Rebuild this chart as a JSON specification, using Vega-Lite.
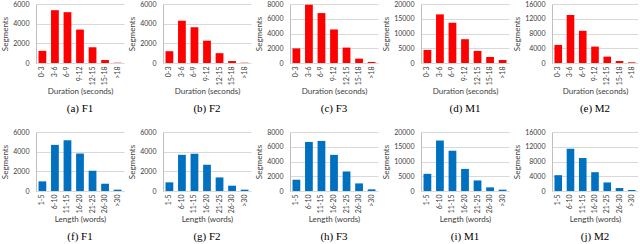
{
  "$schema": "https://vega.github.io/schema/vega-lite/v6.json",
  "padding": {"top": 0, "left": 1, "right": 0, "bottom": 0},
  "background": "white",
  "data": {"values": [
    {"p":"a","c":"0-3","v":1233},{"p":"a","c":"3-6","v":5370},{"p":"a","c":"6-9","v":5170},{"p":"a","c":"9-12","v":3400},{"p":"a","c":"12-15","v":1600},{"p":"a","c":"15-18","v":300},{"p":"a","c":">18","v":30},
    {"p":"b","c":"0-3","v":1200},{"p":"b","c":"3-6","v":4300},{"p":"b","c":"6-9","v":3630},{"p":"b","c":"9-12","v":2270},{"p":"b","c":"12-15","v":1000},{"p":"b","c":"15-18","v":200},{"p":"b","c":">18","v":30},
    {"p":"c","c":"0-3","v":1980},{"p":"c","c":"3-6","v":7900},{"p":"c","c":"6-9","v":6770},{"p":"c","c":"9-12","v":4550},{"p":"c","c":"12-15","v":2090},{"p":"c","c":"15-18","v":590},{"p":"c","c":">18","v":140},
    {"p":"d","c":"0-3","v":4430},{"p":"d","c":"3-6","v":16480},{"p":"d","c":"6-9","v":13640},{"p":"d","c":"9-12","v":8070},{"p":"d","c":"12-15","v":4090},{"p":"d","c":"15-18","v":2050},{"p":"d","c":">18","v":1020},
    {"p":"e","c":"0-3","v":4900},{"p":"e","c":"3-6","v":13000},{"p":"e","c":"6-9","v":8730},{"p":"e","c":"9-12","v":4450},{"p":"e","c":"12-15","v":1730},{"p":"e","c":"15-18","v":550},{"p":"e","c":">18","v":180},
    {"p":"f","c":"1-5","v":980},{"p":"f","c":"6-10","v":4690},{"p":"f","c":"11-15","v":5160},{"p":"f","c":"16-20","v":3810},{"p":"f","c":"21-25","v":2060},{"p":"f","c":"26-30","v":740},{"p":"f","c":">30","v":135},
    {"p":"g","c":"1-5","v":880},{"p":"g","c":"6-10","v":3680},{"p":"g","c":"11-15","v":3780},{"p":"g","c":"16-20","v":2670},{"p":"g","c":"21-25","v":1380},{"p":"g","c":"26-30","v":540},{"p":"g","c":">30","v":135},
    {"p":"h","c":"1-5","v":1530},{"p":"h","c":"6-10","v":6650},{"p":"h","c":"11-15","v":6790},{"p":"h","c":"16-20","v":4900},{"p":"h","c":"21-25","v":2650},{"p":"h","c":"26-30","v":1030},{"p":"h","c":">30","v":225},
    {"p":"i","c":"1-5","v":5820},{"p":"i","c":"6-10","v":17110},{"p":"i","c":"11-15","v":13650},{"p":"i","c":"16-20","v":7490},{"p":"i","c":"21-25","v":3580},{"p":"i","c":"26-30","v":1230},{"p":"i","c":">30","v":450},
    {"p":"j","c":"1-5","v":4290},{"p":"j","c":"6-10","v":11440},{"p":"j","c":"11-15","v":8940},{"p":"j","c":"16-20","v":5100},{"p":"j","c":"21-25","v":2320},{"p":"j","c":"26-30","v":800},{"p":"j","c":">30","v":270}
  ]},
  "vconcat": [
    {"hconcat": [
      {"transform":[{"filter":"datum.p=='a'"}],"width":88,"height":59,"title":"(a) F1","mark":{"type":"bar","color":"#ff0000"},
       "encoding":{"x":{"field":"c","type":"nominal","sort":null,"title":"Duration (seconds)"},
                   "y":{"field":"v","type":"quantitative","title":"Segments","scale":{"domain":[0,6000]},"axis":{"values":[0,2000,4000,6000]}}}},
      {"transform":[{"filter":"datum.p=='b'"}],"width":88,"height":59,"title":"(b) F2","mark":{"type":"bar","color":"#ff0000"},
       "encoding":{"x":{"field":"c","type":"nominal","sort":null,"title":"Duration (seconds)"},
                   "y":{"field":"v","type":"quantitative","title":"Segments","scale":{"domain":[0,6000]},"axis":{"values":[0,2000,4000,6000]}}}},
      {"transform":[{"filter":"datum.p=='c'"}],"width":88,"height":59,"title":"(c) F3","mark":{"type":"bar","color":"#ff0000"},
       "encoding":{"x":{"field":"c","type":"nominal","sort":null,"title":"Duration (seconds)"},
                   "y":{"field":"v","type":"quantitative","title":"Segments","scale":{"domain":[0,8000]},"axis":{"values":[0,2000,4000,6000,8000]}}}},
      {"transform":[{"filter":"datum.p=='d'"}],"width":88,"height":59,"title":"(d) M1","mark":{"type":"bar","color":"#ff0000"},
       "encoding":{"x":{"field":"c","type":"nominal","sort":null,"title":"Duration (seconds)"},
                   "y":{"field":"v","type":"quantitative","title":"Segments","scale":{"domain":[0,20000]},"axis":{"values":[0,5000,10000,15000,20000]}}}},
      {"transform":[{"filter":"datum.p=='e'"}],"width":86,"height":59,"title":"(e) M2","mark":{"type":"bar","color":"#ff0000"},
       "encoding":{"x":{"field":"c","type":"nominal","sort":null,"title":"Duration (seconds)"},
                   "y":{"field":"v","type":"quantitative","title":"Segments","scale":{"domain":[0,16000]},"axis":{"values":[0,4000,8000,12000,16000]}}}}
    ]},
    {"hconcat": [
      {"transform":[{"filter":"datum.p=='f'"}],"width":88,"height":59,"title":"(f) F1","mark":{"type":"bar","color":"#0070c0"},
       "encoding":{"x":{"field":"c","type":"nominal","sort":null,"title":"Length (words)"},
                   "y":{"field":"v","type":"quantitative","title":"Segments","scale":{"domain":[0,6000]},"axis":{"values":[0,2000,4000,6000]}}}},
      {"transform":[{"filter":"datum.p=='g'"}],"width":88,"height":59,"title":"(g) F2","mark":{"type":"bar","color":"#0070c0"},
       "encoding":{"x":{"field":"c","type":"nominal","sort":null,"title":"Length (words)"},
                   "y":{"field":"v","type":"quantitative","title":"Segments","scale":{"domain":[0,6000]},"axis":{"values":[0,2000,4000,6000]}}}},
      {"transform":[{"filter":"datum.p=='h'"}],"width":88,"height":59,"title":"(h) F3","mark":{"type":"bar","color":"#0070c0"},
       "encoding":{"x":{"field":"c","type":"nominal","sort":null,"title":"Length (words)"},
                   "y":{"field":"v","type":"quantitative","title":"Segments","scale":{"domain":[0,8000]},"axis":{"values":[0,2000,4000,6000,8000]}}}},
      {"transform":[{"filter":"datum.p=='i'"}],"width":88,"height":59,"title":"(i) M1","mark":{"type":"bar","color":"#0070c0"},
       "encoding":{"x":{"field":"c","type":"nominal","sort":null,"title":"Length (words)"},
                   "y":{"field":"v","type":"quantitative","title":"Segments","scale":{"domain":[0,20000]},"axis":{"values":[0,5000,10000,15000,20000]}}}},
      {"transform":[{"filter":"datum.p=='j'"}],"width":86,"height":59,"title":"(j) M2","mark":{"type":"bar","color":"#0070c0"},
       "encoding":{"x":{"field":"c","type":"nominal","sort":null,"title":"Length (words)"},
                   "y":{"field":"v","type":"quantitative","title":"Segments","scale":{"domain":[0,16000]},"axis":{"values":[0,4000,8000,12000,16000]}}}}
    ]}
  ],
  "spacing": 14,
  "config": {
    "view": {"stroke": null},
    "concat": {"spacing": 4},
    "title": {"orient": "bottom", "font": "Liberation Serif", "fontSize": 11, "fontWeight": 400, "color": "#000000", "offset": 7},
    "axis": {"labelFont": "Lato", "titleFont": "Lato", "labelFontSize": 7, "titleFontSize": 8, "labelColor": "#404040", "titleColor": "#404040", "titleFontWeight": "normal", "ticks": false, "gridColor": "#d9d9d9", "domainColor": "#bfbfbf"},
    "axisX": {"labelAngle": -90, "grid": false, "domain": false, "labelPadding": 3, "titlePadding": 3},
    "axisY": {"labelPadding": 7, "titlePadding": 3, "format": "d"},
    "scale": {"bandPaddingInner": 0.38, "bandPaddingOuter": 0.2}
  }
}
